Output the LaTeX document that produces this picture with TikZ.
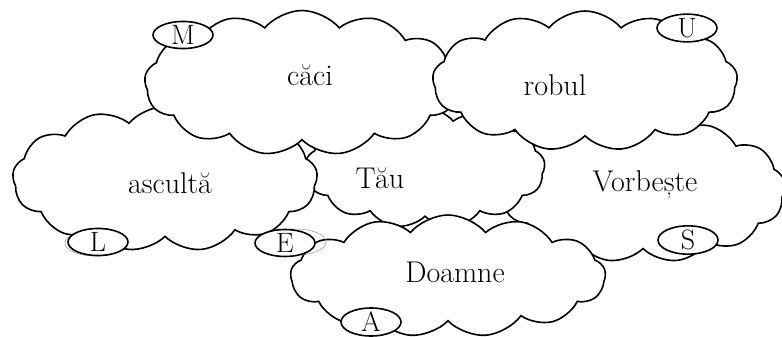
\documentclass[tikz,border=0pt]{standalone}
\usepackage{tikz}
\usetikzlibrary{shapes.symbols, shapes.geometric}

\begin{document}
\begin{tikzpicture}[x=1pt,y=-1pt,
  cloudbox/.style={cloud, cloud puffs=13, cloud puff arc=100, cloud ignores aspect,
    draw, line width=1.6pt, fill=white, inner sep=0pt},
  letter/.style={ellipse, draw, line width=1.6pt, fill=white, inner sep=0pt,
    minimum width=60pt, minimum height=26pt, font=\fontsize{28}{30}\selectfont},
  word/.style={font=\fontsize{30}{34}\selectfont}]
\useasboundingbox (0,0) rectangle (782,337);
% clouds, back to front
\node[cloudbox, minimum width=285pt, minimum height=145pt] (vorbeste) at (643,190) {};
\node[cloudbox, minimum width=240pt, minimum height=120pt] (tau) at (425,168) {};
\node[cloudbox, minimum width=305pt, minimum height=145pt] (asculta) at (165,179) {};
\node[cloudbox, minimum width=315pt, minimum height=145pt] (caci) at (302,83) {};
\node[cloudbox, minimum width=305pt, minimum height=140pt] (robul) at (585,81) {};
\node[cloudbox, minimum width=315pt, minimum height=122pt] (doamne) at (448,276) {};
% words
\node[word] (wcaci) at (310,75) {căci};
\node[word] (wrobul) at (555,85) {robul};
\node[word] (wasculta) at (170,183) {ascultă};
\node[word] (wtau) at (380,178) {Tău};
\node[word] (wvorbeste) at (645,185) {Vorbește};
\node[word] (wdoamne) at (455,272) {Doamne};
% faint outlines behind L and E
\coordinate (lback) at (95,243);
\coordinate (eback) at (296,242);
\draw[thin, gray] (lback) ellipse (30pt and 13pt);
\draw[thin, gray] (eback) ellipse (30pt and 13pt);
% letters
\foreach \l/\x/\y in {M/183/35, U/687/28, L/98/242, E/285/243, S/688/240, A/371/322}
  \node[letter] (\l) at (\x,\y) {\l};
\end{tikzpicture}
\end{document}
